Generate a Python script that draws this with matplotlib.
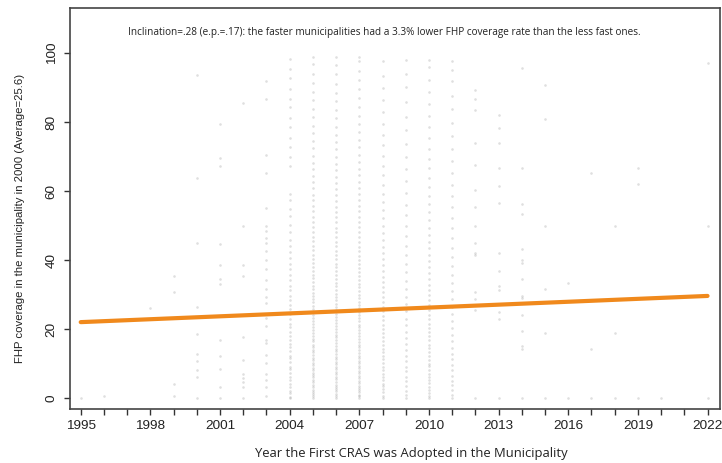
import matplotlib
matplotlib.use("Agg")
import matplotlib.pyplot as plt

# year each municipality adopted its first CRAS, and its FHP coverage in 2000 (%)
sparse_points = {
    1995: [0.0],
    1996: [0.7],
    1998: [26.0],
    1999: [35.4, 30.8, 4.0, 0.5],
    2000: [93.7, 63.7, 44.9, 26.5, 18.5, 12.8, 10.8, 8.1, 6.0, 0.0],
    2001: [79.5, 69.7, 67.3, 44.6, 38.6, 34.4, 33.0, 16.8, 12.3, 8.4, 3.3, 0.0],
    2002: [85.5, 50.0, 38.5, 35.4, 17.6, 11.0, 6.9, 5.9, 4.7, 3.3, 0.0],
    2003: [91.8, 86.6, 70.5, 65.2, 55.0, 50.0, 48.3, 46.3, 44.9, 42.7, 40.0,
           37.3, 34.2, 31.5, 29.4, 27.5, 23.1, 20.9, 16.8, 16.0, 12.5, 10.1,
           6.9, 5.2, 3.1, 0.6],
    2012: [89.2, 86.6, 83.4, 73.9, 67.6, 60.3, 55.5, 50.0, 44.9, 42.0, 41.6,
           30.8, 28.6, 25.5, 0.0],
    2013: [82.1, 78.2, 73.9, 66.8, 61.5, 56.7, 42.0, 36.9, 32.5, 31.3, 25.0,
           22.8, 0.0],
    2014: [95.8, 66.8, 56.2, 53.4, 43.2, 40.0, 39.1, 34.4, 29.6, 28.9, 24.1,
           19.4, 15.1, 14.1, 0.0],
    2015: [90.8, 80.8, 50.0, 31.5, 18.8, 0.0],
    2016: [33.3, 0.0],
    2017: [65.2, 14.1, 0.0],
    2018: [50.0, 18.9, 0.0],
    2019: [66.8, 62.0, 0.0],
    2020: [0.0],
    2022: [97.3, 50.0, 0.0],
}

dense_points = {
    2004: [0.0, 0.4, 1.3, 2.1, 3.2, 4.0, 5.3, 6.1, 7.2, 8.4, 9.1, 10.3, 11.6,
           12.2, 13.5, 14.9, 15.7, 16.8, 18.1, 19.2, 20.6, 21.5, 23.0, 24.3,
           25.9, 27.1, 28.3, 29.5, 31.2, 32.6, 34.1, 35.7, 37.3, 38.9, 40.6,
           42.2, 44.1, 45.8, 48.0, 50.2, 52.7, 54.8, 57.3, 59.1, 67.2, 69.9,
           72.8, 75.4, 78.7, 81.1, 84.5, 86.8, 89.6, 92.9, 95.3, 98.4],
    2005: [0.0, 0.5, 1.1, 1.8, 2.4, 3.1, 3.9, 4.5, 5.2, 6.0, 6.7, 7.3, 8.1,
           8.8, 9.6, 10.2, 11.0, 11.7, 12.5, 13.3, 14.0, 14.8, 15.5, 16.4,
           17.2, 18.0, 18.9, 19.7, 20.5, 21.4, 22.2, 23.1, 24.0, 24.9, 25.8,
           26.7, 27.7, 28.6, 29.6, 30.5, 31.6, 32.6, 33.7, 34.7, 35.8, 36.9,
           38.1, 39.2, 40.4, 41.6, 42.9, 44.1, 45.4, 46.8, 48.1, 49.6, 51.0,
           52.6, 54.1, 55.7, 57.4, 59.0, 60.8, 62.6, 64.4, 66.3, 68.3, 70.3,
           72.4, 74.5, 76.8, 79.0, 81.4, 83.8, 86.3, 88.8, 91.5, 94.1, 96.8,
           99.0],
    2006: [0.0, 0.6, 1.2, 1.9, 2.5, 3.3, 3.9, 4.7, 5.4, 6.1, 6.9, 7.5, 8.3,
           9.0, 9.8, 10.5, 11.3, 12.0, 12.8, 13.6, 14.3, 15.1, 15.9, 16.7,
           17.6, 18.4, 19.2, 20.1, 21.0, 21.8, 22.7, 23.6, 24.5, 25.5, 26.4,
           27.3, 28.3, 29.3, 30.3, 31.3, 32.4, 33.4, 34.5, 35.6, 36.7, 37.9,
           39.0, 40.2, 41.5, 42.7, 44.0, 45.3, 46.6, 48.0, 49.4, 50.9, 52.4,
           53.9, 55.5, 57.1, 58.8, 60.5, 62.3, 64.1, 66.0, 68.0, 70.0, 72.1,
           74.2, 76.4, 78.7, 81.1, 83.5, 86.0, 88.6, 91.2, 93.9, 96.6, 99.0],
    2007: [0.0, 0.5, 1.0, 1.7, 2.3, 3.0, 3.6, 4.3, 5.0, 5.8, 6.4, 7.2, 7.9,
           8.6, 9.3, 10.1, 10.8, 11.6, 12.3, 13.1, 13.9, 14.7, 15.4, 16.3,
           17.1, 17.9, 18.8, 19.6, 20.5, 21.3, 22.3, 23.2, 24.1, 25.0, 26.0,
           27.0, 27.9, 28.9, 30.0, 31.0, 32.1, 33.1, 34.2, 35.4, 36.5, 37.7,
           38.9, 40.1, 41.3, 42.6, 43.9, 45.2, 46.6, 48.0, 49.5, 51.0, 52.5,
           54.1, 55.7, 57.4, 59.1, 60.9, 62.7, 64.6, 66.5, 68.5, 70.6, 72.7,
           74.9, 77.2, 79.5, 81.9, 84.4, 86.9, 89.5, 92.2, 94.9, 97.6, 99.0],
    2008: [0.0, 0.7, 1.6, 2.5, 3.4, 4.2, 5.3, 6.2, 7.1, 8.2, 9.0, 10.1, 11.2,
           12.1, 13.3, 14.2, 15.4, 16.5, 17.7, 18.8, 20.0, 21.3, 22.5, 23.8,
           25.1, 26.4, 27.8, 29.2, 30.7, 32.1, 33.7, 35.2, 36.9, 38.5, 40.2,
           42.0, 43.9, 45.8, 47.8, 49.9, 52.1, 54.4, 56.8, 59.3, 61.9, 64.6,
           67.4, 70.3, 73.3, 76.4, 79.6, 82.9, 86.3, 89.8, 93.4, 97.6],
    2009: [0.0, 0.9, 2.1, 3.4, 4.8, 6.1, 7.7, 9.0, 10.6, 12.3, 13.8, 15.6,
           17.3, 19.2, 21.1, 23.0, 25.1, 27.2, 29.4, 31.6, 34.0, 36.4, 38.9,
           41.5, 44.2, 47.0, 49.9, 53.0, 56.1, 59.4, 62.8, 66.3, 69.9, 73.7,
           77.6, 81.6, 85.8, 90.1, 94.0, 98.0],
    2010: [0.0, 0.6, 1.5, 2.4, 3.3, 4.3, 5.1, 6.2, 7.0, 8.1, 9.2, 10.0, 11.1,
           12.3, 13.2, 14.4, 15.5, 16.7, 17.9, 19.1, 20.3, 21.6, 22.9, 24.2,
           25.6, 27.0, 28.4, 29.9, 31.4, 32.9, 34.5, 36.2, 37.9, 39.7, 41.5,
           43.4, 45.3, 47.3, 49.4, 51.6, 53.9, 56.2, 58.7, 61.2, 63.8, 66.6,
           69.4, 72.3, 75.4, 78.5, 81.8, 85.2, 88.7, 92.3, 95.9, 98.0],
    2011: [0.0, 1.0, 2.3, 3.7, 5.0, 6.5, 8.0, 9.6, 11.2, 12.9, 14.6, 16.4,
           18.3, 20.2, 22.2, 24.3, 26.4, 28.6, 30.9, 33.3, 35.7, 38.2, 40.8,
           43.5, 46.3, 49.2, 52.2, 55.3, 58.5, 61.8, 65.2, 68.7, 72.3, 76.0,
           79.8, 83.7, 87.7, 91.8, 95.1, 97.6],
}

# fitted regression line (slope .28 per year)
fit_years = [1995, 2022]
fit_values = [22.0, 29.6]

x_ticks = list(range(1995, 2023))
x_labels = [str(y) if (y - 1995) % 3 == 0 else "" for y in x_ticks]
y_ticks = [0, 20, 40, 60, 80, 100]

note = ("Inclination=.28 (e.p.=.17): the faster municipalities had a 3.3% "
        "lower FHP coverage rate than the less fast ones.")

fig = plt.figure(figsize=(7.22, 4.63), dpi=100)
ax = fig.add_axes([0.097, 0.1166, 0.9, 0.866])

xs, ys = [], []
for pts in (sparse_points, dense_points):
    for year, vals in pts.items():
        xs += [year] * len(vals)
        ys += vals
ax.scatter(xs, ys, s=3.5, color="#8c8c8c", alpha=0.28, linewidths=0, zorder=1)

ax.plot(fit_years, fit_values, color="#f0891c", lw=3.0,
        solid_capstyle="round", zorder=3)

ax.set_xlim(1994.54, 2022.53)
ax.set_ylim(-3.2, 113.1)

ax.set_xticks(x_ticks)
ax.set_xticklabels(x_labels, fontsize=9.7, family="Liberation Sans", color="#222222")
ax.set_yticks(y_ticks)
ax.set_yticklabels([str(v) for v in y_ticks], fontsize=9.7, family="Liberation Sans",
                   color="#222222", rotation=90, va="center")
ax.tick_params(axis="both", direction="out", length=4.5, width=1.0, color="#333333")
ax.tick_params(axis="x", pad=3.5)
ax.tick_params(axis="y", pad=4.5)

for sp in ax.spines.values():
    sp.set_color("#444444")
    sp.set_linewidth(1.2)

fig.text(20.5 / 722, 1 - 218 / 463, "FHP coverage in the municipality in 2000 (Average=25.6)",
         rotation=90, ha="center", va="center", fontsize=8.2,
         family="Liberation Sans", color="#222222")
fig.text(411 / 722, 1 - 454 / 463, "Year the First CRAS was Adopted in the Municipality",
         ha="center", va="center", fontsize=9.4, family="Open Sans", color="#222222")
fig.text(128 / 722, 1 - 33 / 463, note, ha="left", va="center",
         fontsize=7.2, family="Open Sans", color="#222222")

fig.savefig("out.png", dpi=100)
